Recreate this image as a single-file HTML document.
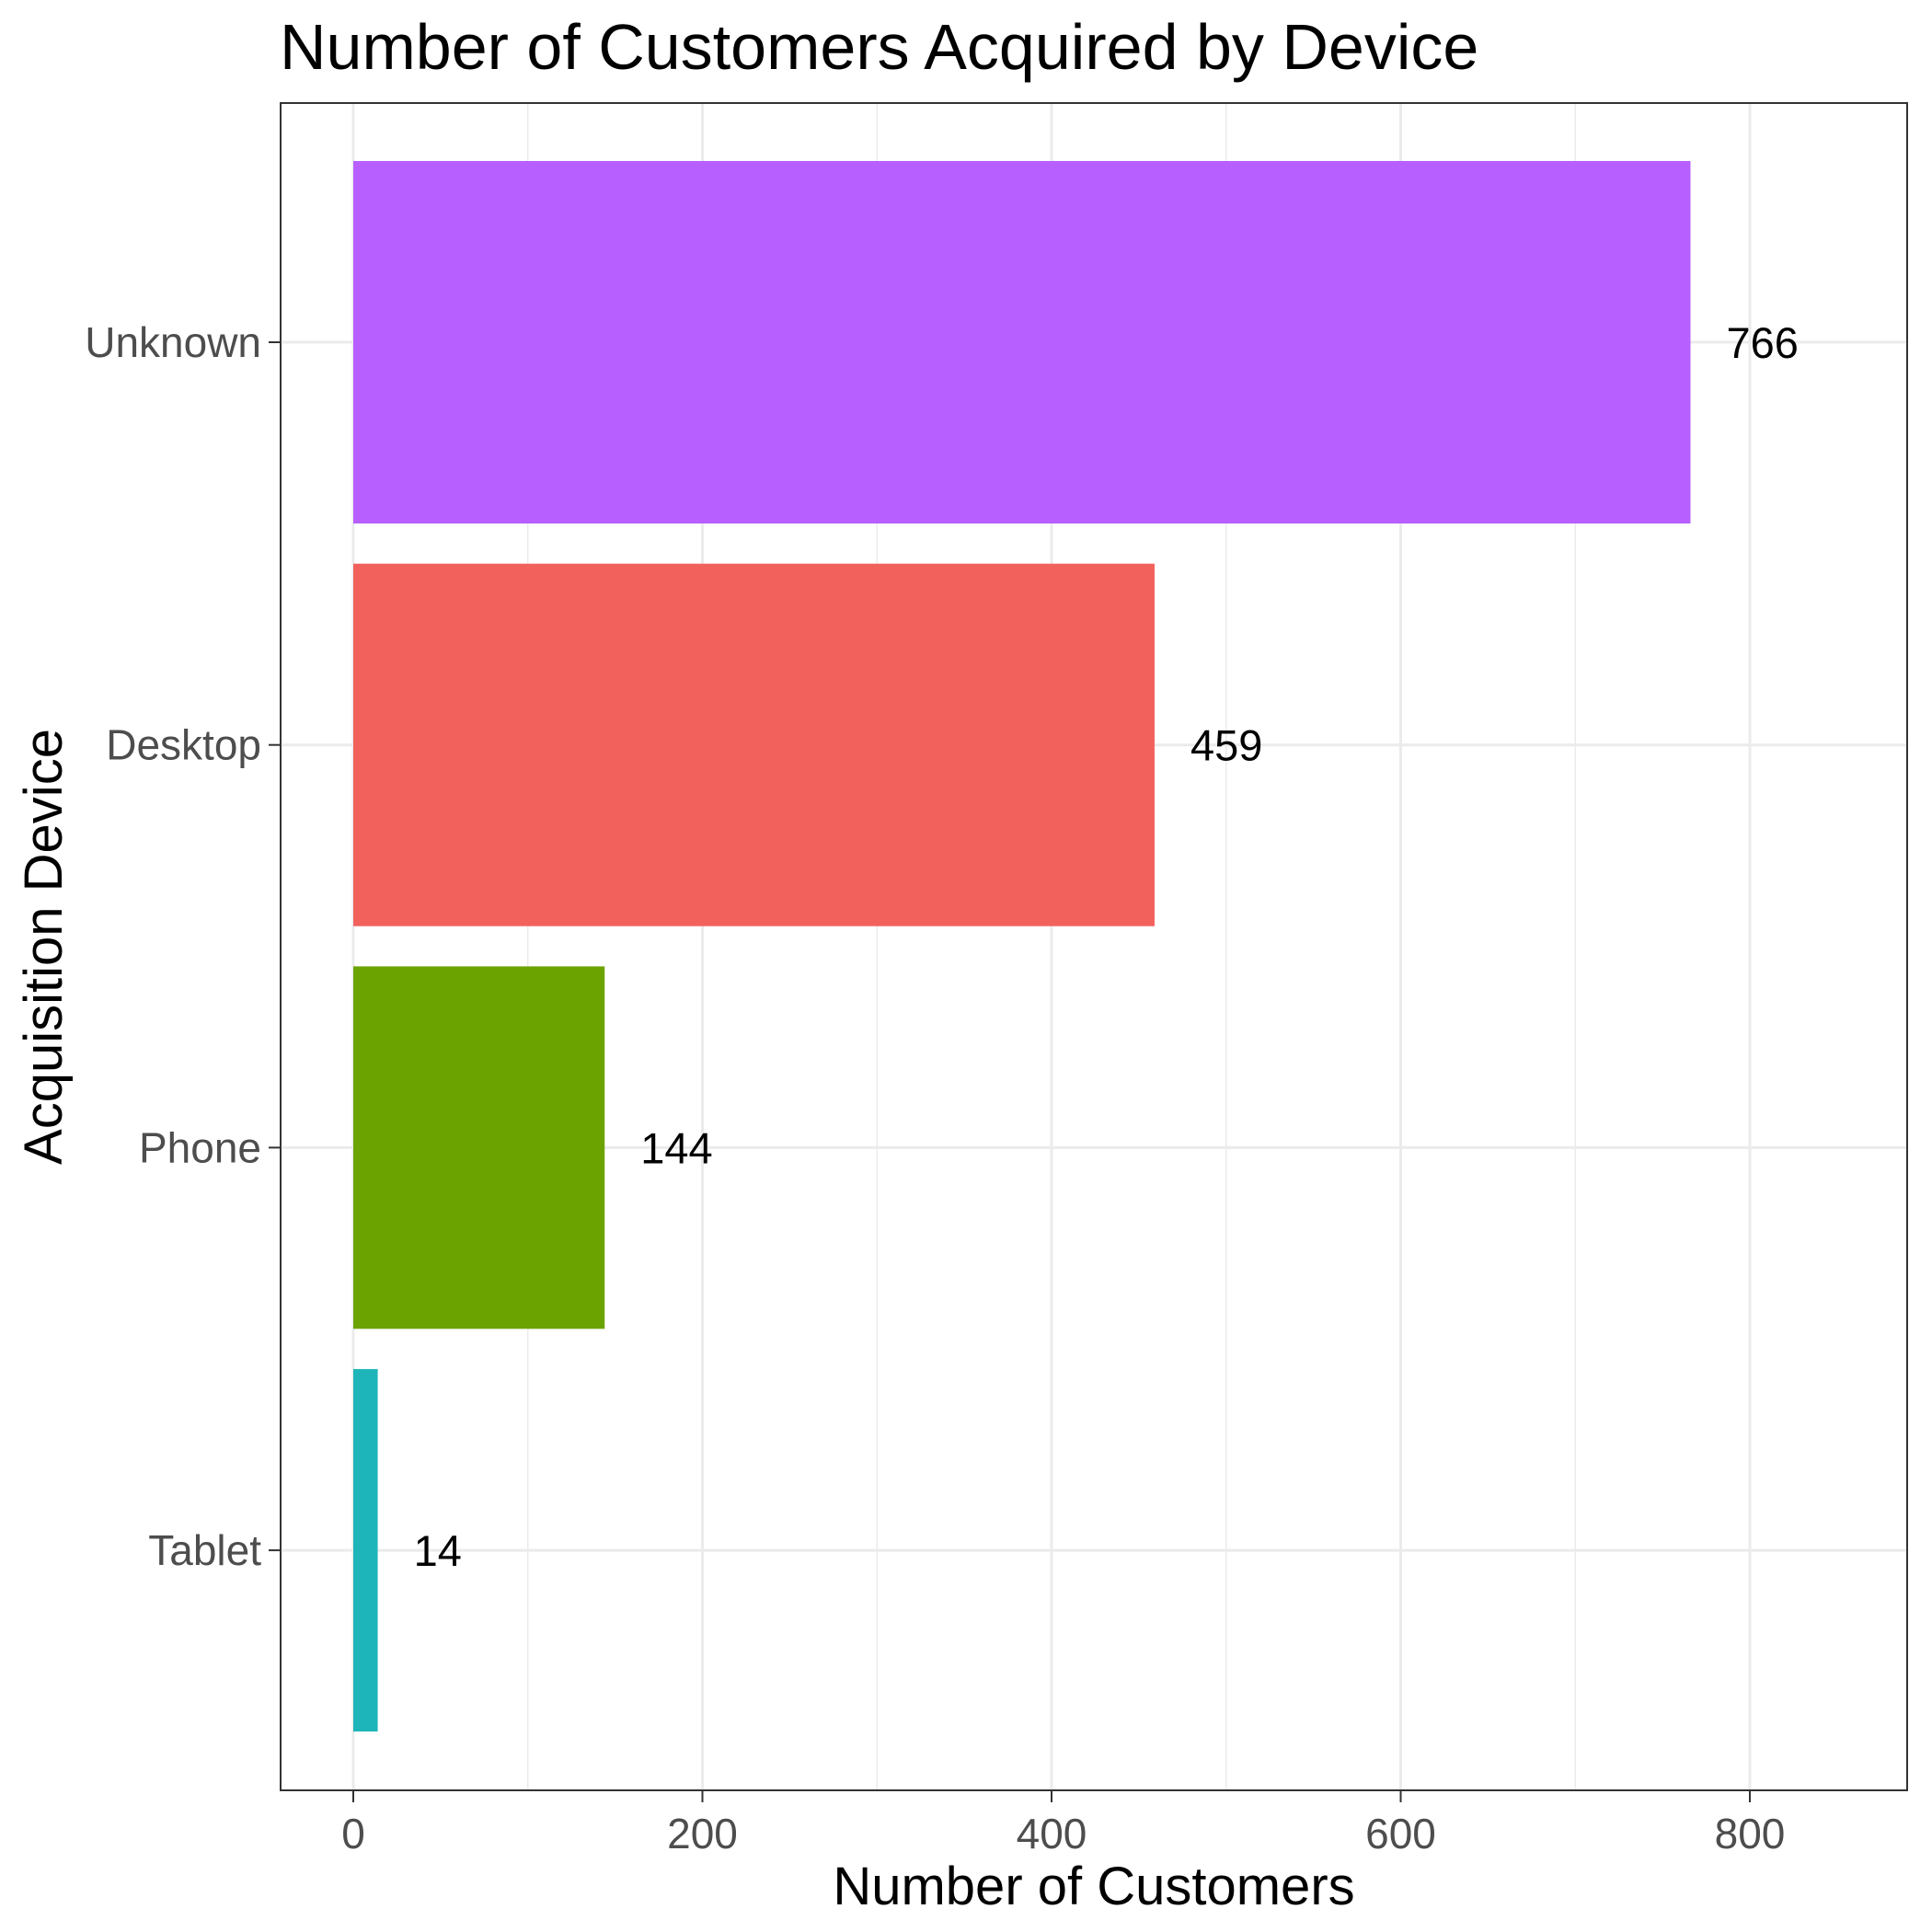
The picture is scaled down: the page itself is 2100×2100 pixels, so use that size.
<!DOCTYPE html>
<html><head><meta charset="utf-8"><style>
html,body{margin:0;padding:0;background:#fff}
svg{display:block;font-family:"Liberation Sans",Arial,sans-serif}
</style></head><body>
<svg id="chart" width="2100" height="2100" viewBox="0 0 2100 2100" xmlns="http://www.w3.org/2000/svg">
<rect x="0" y="0" width="2100" height="2100" fill="#fff"/>
<text x="304" y="75" font-size="70" fill="#000">Number of Customers Acquired by Device</text>
<g id="grid"></g>
<g id="bars"></g>
<rect x="305" y="112" width="1768" height="1834" fill="none" stroke="#333" stroke-width="2"/>
<g id="axes"></g>
<text x="1189" y="2070" font-size="58" text-anchor="middle" fill="#000">Number of Customers</text>
<text x="0" y="0" font-size="58" text-anchor="middle" fill="#000" transform="translate(67,1029) rotate(-90)">Acquisition Device</text>
</svg>
<script>
const categories = ["Unknown","Desktop","Phone","Tablet"];
const values = [766,459,144,14];
const colors = ["#B75FFF","#F2615C","#6BA300","#1DB5B9"];
const xTicks = [0,200,400,600,800];
const xMinor = [100,300,500,700];

const NS="http://www.w3.org/2000/svg";
const L=305,R=2073,T=112,B=1946;
const x0=384, pxPer=(1902-384)/800;
function xs(v){return x0+v*pxPer;}
function yc(i){return 372+i*437.7;}
const halfH=197;
function mk(tag,attrs,parent){const e=document.createElementNS(NS,tag);for(const k in attrs)e.setAttribute(k,attrs[k]);parent.appendChild(e);return e;}
const grid=document.getElementById('grid'),bars=document.getElementById('bars'),axes=document.getElementById('axes');
xMinor.forEach(v=>{const l=mk('line',{x1:xs(v),x2:xs(v),y1:T,y2:B,stroke:'#ebebeb','stroke-width':1.5},grid);

});
xTicks.forEach(v=>{const l=mk('line',{x1:xs(v),x2:xs(v),y1:T,y2:B,stroke:'#ebebeb','stroke-width':3},grid);


const t=mk('line',{x1:xs(v),x2:xs(v),y1:B,y2:B+13,stroke:'#333','stroke-width':2},axes);


const tx=mk('text',{x:xs(v),y:2009,'font-size':46,'text-anchor':'middle',fill:'#4d4d4d'},axes);tx.textContent=v;

});
categories.forEach((c,i)=>{const y=yc(i);
const g=mk('line',{x1:L,x2:R,y1:y,y2:y,stroke:'#ebebeb','stroke-width':3},grid);


const t=mk('line',{x1:L-13,x2:L,y1:y,y2:y,stroke:'#333','stroke-width':2},axes);


const tl=mk('text',{x:284,y:y+16,'font-size':46,'text-anchor':'end',fill:'#4d4d4d'},axes);tl.textContent=c;


const r=mk('rect',{x:xs(0),y:y-halfH,width:xs(values[i])-xs(0),height:halfH*2,fill:colors[i]},bars);


const vl=mk('text',{x:xs(values[i])+39,y:y+17,'font-size':47,fill:'#000'},bars);vl.textContent=values[i];

});
</script>
</body></html>
